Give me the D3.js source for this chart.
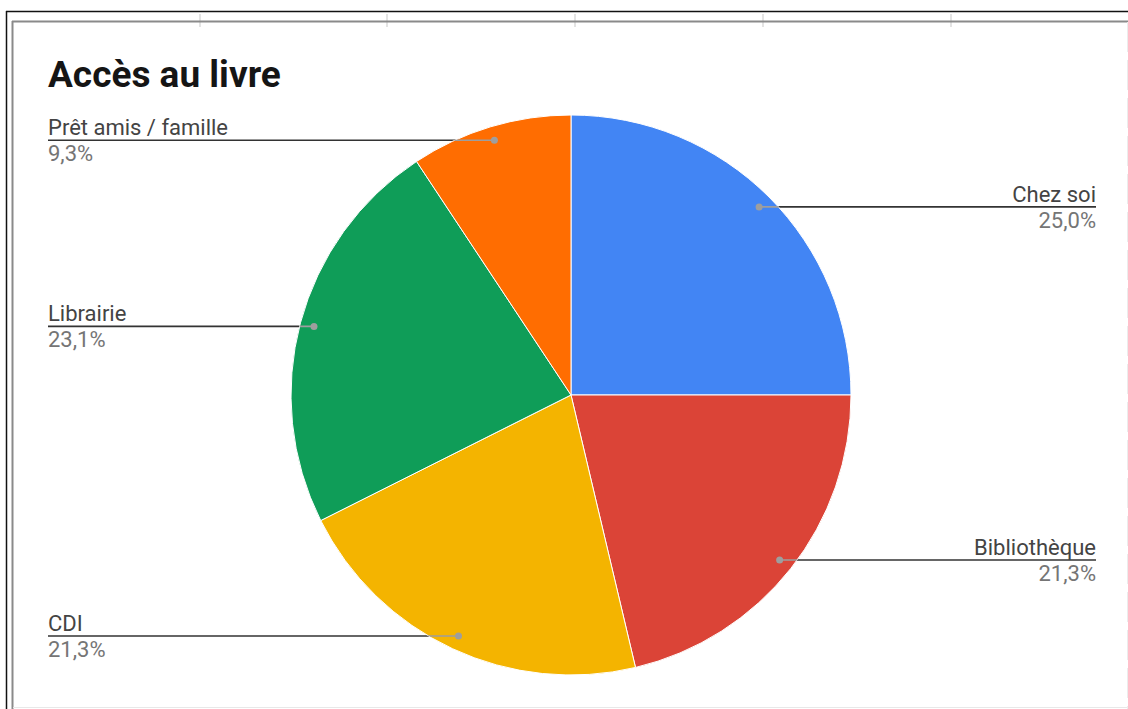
<!DOCTYPE html>
<html><head><meta charset="utf-8">
<script src="https://cdn.jsdelivr.net/npm/d3@7"></script>
<style>html,body{margin:0;padding:0;background:#fff;}svg{display:block;font-family:Roboto,"Noto Sans",sans-serif;}</style>
</head><body>
<svg id="c" width="1128" height="709"></svg>
<script>
const categories = ["Chez soi", "Bibliothèque", "CDI", "Librairie", "Prêt amis / famille"];
const values = [25.0, 21.3, 21.3, 23.1, 9.3];
const valueLabels = ["25,0%", "21,3%", "21,3%", "23,1%", "9,3%"];
const colors = ["#4285F4", "#DB4437", "#F4B400", "#0F9D58", "#FF6D01"];
const title = "Accès au livre";

const svg = d3.select("#c");
const W = 1128, H = 709;

// spreadsheet frame
svg.append("line").attr("x1",6).attr("x2",W).attr("y1",11.5).attr("y2",11.5).attr("stroke","#111").attr("stroke-width",1.5);
svg.append("line").attr("x1",6.5).attr("x2",6.5).attr("y1",11).attr("y2",H).attr("stroke","#111").attr("stroke-width",1.5);
[200,387,575,763,951].forEach(x=>{
  svg.append("line").attr("x1",x).attr("x2",x).attr("y1",14).attr("y2",27).attr("stroke","#dadada").attr("stroke-width",1.5);
});
svg.append("line").attr("x1",12).attr("x2",W).attr("y1",21.5).attr("y2",21.5).attr("stroke","#8a8a8a").attr("stroke-width",2);
svg.append("line").attr("x1",12.5).attr("x2",12.5).attr("y1",21).attr("y2",H).attr("stroke","#8a8a8a").attr("stroke-width",2);
svg.append("line").attr("x1",13).attr("x2",W).attr("y1",707.5).attr("y2",707.5).attr("stroke","#e8e8e8").attr("stroke-width",1);
svg.append("line").attr("x1",1127.5).attr("x2",1127.5).attr("y1",22).attr("y2",H).attr("stroke","#ececec").attr("stroke-width",1).attr("stroke-dasharray","30,8");

// title
svg.append("text").attr("x",48).attr("y",87).attr("font-size",37).attr("font-weight","bold").attr("fill","#151515").text(title);

const cx = 571, cy = 395, r = 280;
const data = categories.map((c,i)=>({name:c, value:values[i], label:valueLabels[i], color:colors[i]}));
const pie = d3.pie().sort(null).value(d=>d.value);
const arcs = pie(data);
const arc = d3.arc().innerRadius(0).outerRadius(r);
const dotArc = d3.arc().innerRadius(r*0.95).outerRadius(r*0.95);

const g = svg.append("g").attr("transform",`translate(${cx},${cy})`);
const leftX = 48 - cx, rightX = 1096 - cx;

// dark leader lines (under pie)
arcs.forEach(a=>{
  const [px,py] = dotArc.centroid(a);
  const mid = (a.startAngle+a.endAngle)/2;
  const ex = mid < Math.PI ? rightX : leftX;
  g.append("line").attr("x1",px).attr("x2",ex).attr("y1",py).attr("y2",py).attr("stroke","#333").attr("stroke-width",1.6);
});

g.selectAll("path.slice").data(arcs).join("path").attr("class","slice")
  .attr("d",arc).attr("fill",d=>d.data.color).attr("stroke","#fff").attr("stroke-width",1);

const clip = svg.append("defs").append("clipPath").attr("id","pc");
clip.append("circle").attr("r",r);
const inner = g.append("g").attr("clip-path","url(#pc)");

arcs.forEach(a=>{
  const [px,py] = dotArc.centroid(a);
  const mid = (a.startAngle+a.endAngle)/2;
  const right = mid < Math.PI;
  const ex = right ? rightX : leftX;
  inner.append("line").attr("x1",px).attr("x2",ex).attr("y1",py).attr("y2",py).attr("stroke","#9e9e9e").attr("stroke-width",1.6);
  g.append("circle").attr("cx",px).attr("cy",py).attr("r",3.5).attr("fill","#9e9e9e");
  g.append("text").attr("x",ex).attr("y",py-5).attr("text-anchor",right?"end":"start")
    .attr("font-size",22).attr("fill","#444").text(a.data.name);
  g.append("text").attr("x",ex).attr("y",py+21).attr("text-anchor",right?"end":"start")
    .attr("font-size",22).attr("fill","#757575").text(a.data.label);
});
</script>
</body></html>
